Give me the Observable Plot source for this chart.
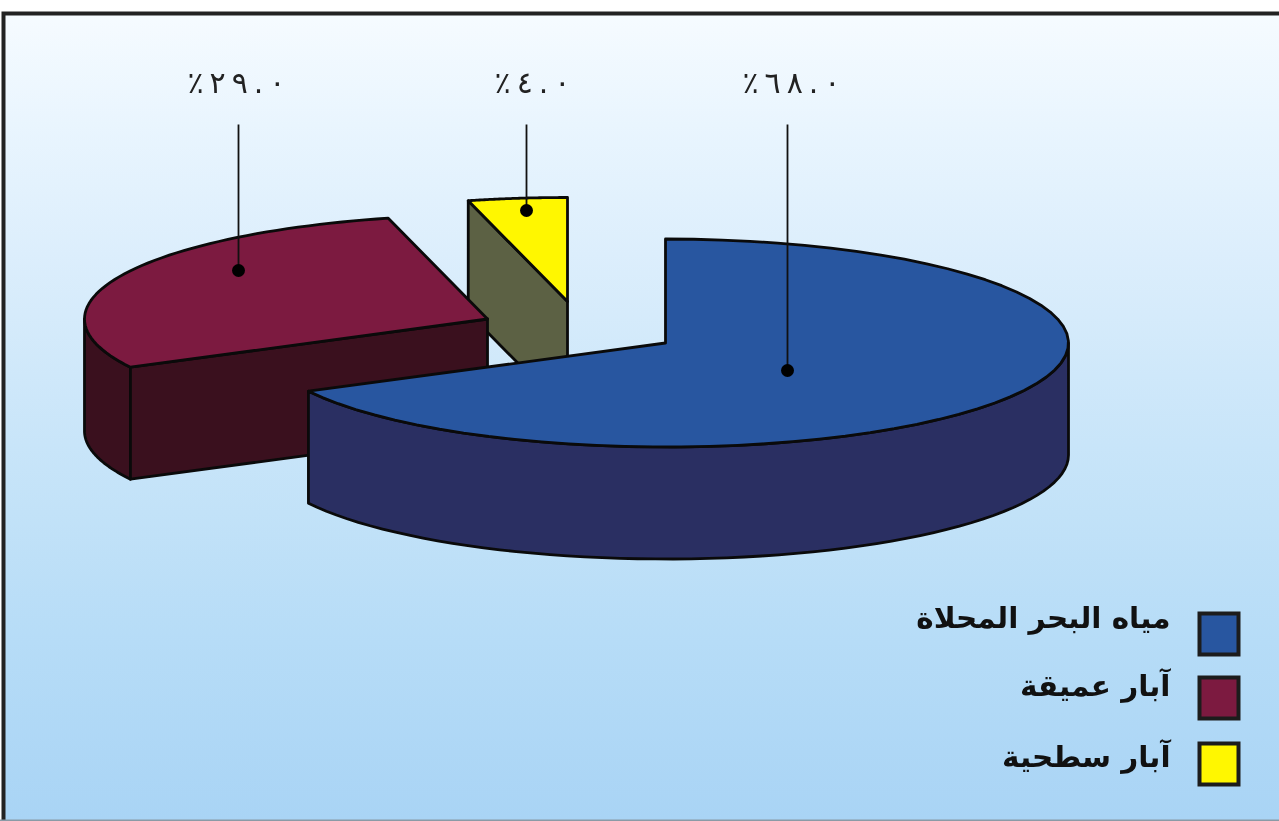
<!DOCTYPE html>
<html lang="ar">
<head>
<meta charset="utf-8">
<script src="https://cdn.jsdelivr.net/npm/d3@7"></script>
<script src="https://cdn.jsdelivr.net/npm/@observablehq/plot@0.6"></script>
<style>
html,body{margin:0;padding:0;background:#fff;}
#chart svg{display:block;filter:blur(0.6px);background:linear-gradient(to bottom,#f6fbff 0%,#e9f5fe 14%,#dceefc 30%,#cfe8fa 45%,#c2e2f8 62%,#b6dcf7 78%,#a9d4f5 100%) no-repeat !important;background-position:2px 12px !important;background-size:1277px 808px !important;}
</style>
</head>
<body>
<div id="chart"></div>
<script>
// data
const names = ["مياه البحر المحلاة", "آبار عميقة", "آبار سطحية"];
const values = [68, 29, 4];
const valueLabels = ["٪٦٨.٠", "٪٢٩.٠", "٪٤.٠"];
const topColors = ["#2856a0", "#7c1a40", "#fff700"];
const sideColors = ["#2a2f62", "#3a101e", "#5c6144"];

// layout of the exploded 3-D pie
const W = 1279, H = 821;
const rx = 403, ry = 104, depth = 112;
const centers = [[665, 342.5], [487, 318.5], [567, 301]];
const leaderAnchors = [[787, 370], [238, 270], [526, 210]];
const labelX = [791, 236, 532];
const labelY = 83, leaderTop = 124;
const legendY = [634, 698, 764], legendLabelY = [618, 686, 757];

const arcs = d3.pie().sort(null).startAngle(0).endAngle(2 * Math.PI)(values);
const project = (i, a, dz = 0) => ({
  x: centers[i][0] + rx * Math.sin(a),
  y: centers[i][1] - ry * Math.cos(a) + dz
});
const samples = (a0, a1) => d3.range(0, 61).map((k) => a0 + (a1 - a0) * k / 60);
const closed = (p) => [...p, p[0]];
// widely set numerals, kept in left-to-right visual order
const spaced = (s) => "\u202D" + [...s].join("\u2009") + "\u202C";

function topFace(i) {
  const {startAngle: a0, endAngle: a1} = arcs[i];
  return closed([{x: centers[i][0], y: centers[i][1]}, ...samples(a0, a1).map((a) => project(i, a))]);
}
function rimFace(i) {
  const a0 = Math.max(arcs[i].startAngle, Math.PI / 2);
  const a1 = Math.min(arcs[i].endAngle, 3 * Math.PI / 2);
  if (a1 <= a0) return null;
  const s = samples(a0, a1);
  return closed([...s.map((a) => project(i, a)), ...s.reverse().map((a) => project(i, a, depth))]);
}
function cutFace(i, a) {
  const c = {x: centers[i][0], y: centers[i][1]};
  return closed([c, project(i, a), project(i, a, depth), {x: c.x, y: c.y + depth}]);
}
const face = (pts, fill) => Plot.line(pts, {x: "x", y: "y", fill, stroke: "#0a0a0a", strokeWidth: 2.8, strokeLinejoin: "round", curve: "linear"});

const marks = [
  // frame
  Plot.rect([0], {x1: () => 3.5, x2: () => W + 10, y1: () => 13.5, y2: () => H + 10, fill: "none", stroke: "#222", strokeWidth: 4}),
  Plot.ruleY([0], {y: () => 820, stroke: "#8a9aa6", strokeWidth: 2}),
  // surface wells (yellow), cut face then top
  face(cutFace(2, arcs[2].startAngle), sideColors[2]),
  face(topFace(2), topColors[2]),
  // deep wells (red)
  face(rimFace(1), sideColors[1]),
  face(cutFace(1, arcs[1].startAngle), sideColors[1]),
  face(topFace(1), topColors[1]),
  // desalinated water (blue)
  face(rimFace(0), sideColors[0]),
  face(topFace(0), topColors[0]),
  // leaders
  Plot.link(values, {
    x1: (d, i) => leaderAnchors[i][0],
    x2: (d, i) => leaderAnchors[i][0],
    y1: () => leaderTop,
    y2: (d, i) => leaderAnchors[i][1],
    stroke: "#111", strokeWidth: 1.8
  }),
  Plot.dot(values, {
    x: (d, i) => leaderAnchors[i][0],
    y: (d, i) => leaderAnchors[i][1],
    r: 6.5, fill: "#000", stroke: "none"
  }),
  // value labels
  Plot.text(valueLabels, {
    x: (d, i) => labelX[i],
    y: () => labelY,
    text: spaced,
    fontSize: 30, fontFamily: "DejaVu Sans", fill: "#222", textAnchor: "middle"
  }),
  // legend
  Plot.rect(names, {
    x1: () => 1199.5, x2: () => 1238.5,
    y1: (d, i) => legendY[i] - 20.5, y2: (d, i) => legendY[i] + 20.5,
    fill: (d, i) => topColors[i], stroke: "#1c1c1c", strokeWidth: 4
  }),
  Plot.text(names, {
    x: () => 1170, y: (d, i) => legendLabelY[i],
    text: (d) => d,
    textAnchor: "end", fontFamily: "DejaVu Sans", fontWeight: "bold", fontSize: 29.5, fill: "#111"
  })
];

const chart = Plot.plot({
  width: W, height: H, margin: 0,
  x: {domain: [0, W], range: [0, W], axis: null},
  y: {domain: [0, H], range: [0, H], axis: null},
  color: {type: "identity"},
  style: {overflow: "hidden"},
  marks
});
document.getElementById("chart").appendChild(chart);
</script>
</body>
</html>
